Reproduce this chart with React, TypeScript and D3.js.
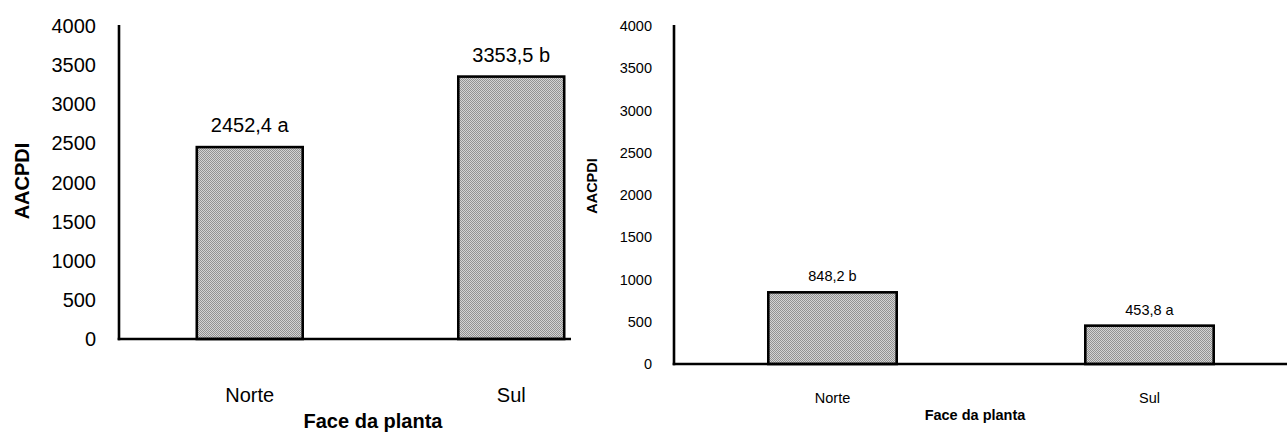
import React from "react";
import * as d3 from "d3";

const categories = ["Norte", "Sul"];
const leftValues = [2452.4, 3353.5];
const leftLetters = ["a", "b"];
const rightValues = [848.2, 453.8];
const rightLetters = ["b", "a"];
const yTicks = [0, 500, 1000, 1500, 2000, 2500, 3000, 3500, 4000];
const yLabel = "AACPDI";
const xLabel = "Face da planta";

const FONT = "'Liberation Sans', Arial, Helvetica, sans-serif";

type PanelProps = {
  values: number[];
  letters: string[];
  x0: number;
  x1: number;
  axisEnd: number;
  yTop: number;
  yBase: number;
  fs: number;
  tickRight: number;
  labelGap: number;
  catBaseline: number;
  titleX: number;
  titleBaseline: number;
  yTitleX: number;
  yTitleY: number;
  sw: number;
};

function Panel(p: PanelProps) {
  const y = d3.scaleLinear().domain([0, 4000]).range([p.yBase, p.yTop]);
  const x = d3
    .scaleBand<string>()
    .domain(categories)
    .range([p.x0, p.x1])
    .paddingInner(0.595)
    .paddingOuter(0.2975);
  const fmt = (v: number) => v.toFixed(1).replace(".", ",");
  return (
    <g fontFamily={FONT} fill="#000">
      {yTicks.map((t) => (
        <text
          key={t}
          x={p.tickRight}
          y={y(t)}
          fontSize={p.fs}
          textAnchor="end"
          dominantBaseline="central"
        >
          {t}
        </text>
      ))}
      {categories.map((c, i) => {
        const bx = x(c)!;
        const by = y(p.values[i]);
        return (
          <g key={c}>
            <rect
              x={bx}
              y={by}
              width={x.bandwidth()}
              height={p.yBase - by}
              fill="url(#dots)"
              stroke="#000"
              strokeWidth={p.sw}
            />
            <text
              x={bx + x.bandwidth() / 2}
              y={by - p.labelGap}
              fontSize={p.fs}
              textAnchor="middle"
            >
              {fmt(p.values[i]) + " " + p.letters[i]}
            </text>
            <text
              x={bx + x.bandwidth() / 2}
              y={p.catBaseline}
              fontSize={p.fs}
              textAnchor="middle"
            >
              {c}
            </text>
          </g>
        );
      })}
      <line
        x1={p.x0}
        x2={p.x0}
        y1={p.yTop - 1}
        y2={p.yBase + p.sw / 2}
        stroke="#000"
        strokeWidth={p.sw}
      />
      <line
        x1={p.x0 - p.sw / 2}
        x2={p.axisEnd}
        y1={p.yBase}
        y2={p.yBase}
        stroke="#000"
        strokeWidth={p.sw}
      />
      <text
        x={p.titleX}
        y={p.titleBaseline}
        fontSize={p.fs}
        fontWeight="bold"
        textAnchor="middle"
      >
        {xLabel}
      </text>
      <text
        transform={`translate(${p.yTitleX},${p.yTitleY}) rotate(-90)`}
        fontSize={p.fs}
        fontWeight="bold"
        textAnchor="middle"
        dominantBaseline="central"
      >
        {yLabel}
      </text>
    </g>
  );
}

export default function App() {
  return (
    <svg
      width={1287}
      height={434}
      style={{ position: "absolute", left: 0, top: 0, background: "#fff" }}
    >
      <defs>
        <pattern id="dots" width={2} height={2} patternUnits="userSpaceOnUse">
          <rect width={2} height={2} fill="#d4d4d4" />
          <rect x={0} y={0} width={1} height={1} fill="#929292" />
          <rect x={1} y={1} width={1} height={1} fill="#929292" />
        </pattern>
      </defs>
      <rect width={1287} height={434} fill="#fff" />
      <Panel
        values={leftValues}
        letters={leftLetters}
        x0={119}
        x1={642}
        axisEnd={571}
        yTop={26}
        yBase={339}
        fs={20}
        tickRight={96}
        labelGap={15}
        catBaseline={402}
        titleX={373}
        titleBaseline={428}
        yTitleX={22}
        yTitleY={181}
        sw={2.6}
      />
      <Panel
        values={rightValues}
        letters={rightLetters}
        x0={674}
        x1={1308}
        axisEnd={1290}
        yTop={26}
        yBase={364}
        fs={14.5}
        tickRight={652}
        labelGap={11}
        catBaseline={403}
        titleX={975}
        titleBaseline={420}
        yTitleX={592}
        yTitleY={186}
        sw={2.6}
      />
    </svg>
  );
}
